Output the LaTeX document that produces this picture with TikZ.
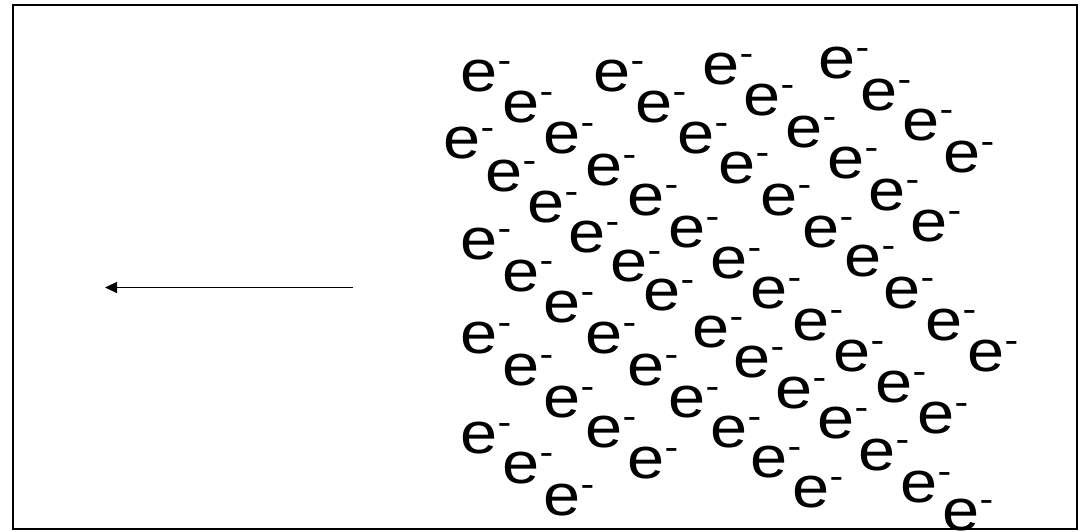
\documentclass[tikz,border=0pt]{standalone}
\usepackage{fontspec}
\setmainfont{Liberation Sans}
\usetikzlibrary{arrows.meta}
\newcommand{\elec}{{\fontsize{58.5}{60}\selectfont e\raisebox{18.6pt}{\fontsize{36}{36}\selectfont -}}}
\begin{document}
\begin{tikzpicture}[x=1pt,y=-1pt,
  el/.style={anchor=base west,inner sep=0pt,outer sep=0pt,xscale=1.14,text=black},
  frame/.style={draw=black,line width=1.2pt},
  arr/.style={draw=black,line width=1pt,-{Triangle[length=12pt,width=11pt]}}]
\useasboundingbox (0,0) rectangle (1090,531);
\draw[frame] (13,5) rectangle (1077,529);
\foreach \cx/\cy [count=\i] in {479/76,521/107,612/76,654/107,721/69,762/100,837/63,879/95,921/125,962/157,
  462/143,504/176,546/207,562/138,604/170,646/200,696/138,737/168,779/200,821/232,
  804/132,846/163,887/195,929/226,479/244,521/276,562/307,587/237,629/266,662/295,
  687/232,729/263,769/293,811/325,852/356,863/261,902/293,944/325,986/356,479/338,
  521/370,562/402,604/338,646/370,687/402,711/332,752/362,794/393,836/423,894/387,
  936/418,479/438,521/468,562/500,604/432,646/463,729/432,769/462,811/492,877/455,
  919/487,961/515}
  \node[el] (e\i) at ({\cx-18.4},{\cy+15.2}) {\elec};
\coordinate (as) at (353,287.5);
\coordinate (ae) at (105,287.5);
\draw[arr] (as) -- (ae);
\end{tikzpicture}
\end{document}
